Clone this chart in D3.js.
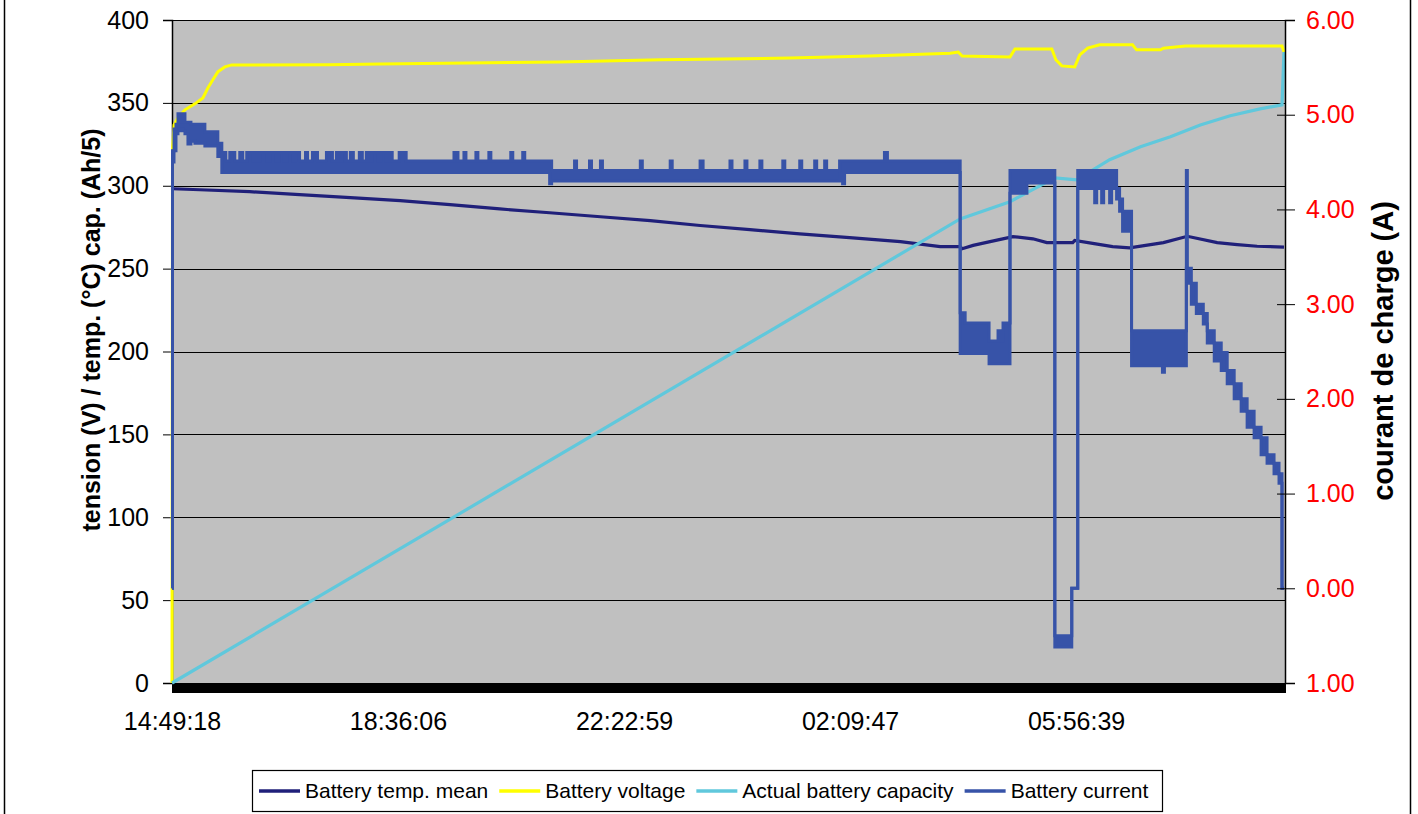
<!DOCTYPE html>
<html><head><meta charset="utf-8">
<script src="https://cdn.jsdelivr.net/npm/d3@7"></script>
<style>
body{margin:0;background:#fff}
svg{display:block}
text{font-family:"Liberation Sans",Arial,Helvetica,sans-serif}
</style>
</head><body>
<svg id="chart" width="1418" height="814"></svg>
<script>
// ---------- DATA (x = minutes elapsed since 14:49:18) ----------
const leftTicks = [0, 50, 100, 150, 200, 250, 300, 350, 400];
const rightTicks = [-1, 0, 1, 2, 3, 4, 5, 6];
const rightTickLabels = ["1.00", "0.00", "1.00", "2.00", "3.00", "4.00", "5.00", "6.00"];
const timeTicks = [0, 226.8, 453.68, 680.48, 907.35];
const timeLabels = ["14:49:18", "18:36:06", "22:22:59", "02:09:47", "05:56:39"];
const seriesNames = ["Battery temp. mean", "Battery voltage", "Actual battery capacity", "Battery current"];

// Battery temp. mean  [minute, value]  (left axis)
const tempMean = [
  [0.5,298.2],[28,297.6],[78,296.4],[128,294.6],[179,292.8],[229,291],[279,288.6],[329,286],
  [379,283.7],[430,281.3],[480,279],[530,276],[580,273.5],[630,271],[680,268.7],[731,266.3],
  [771,263.3],[791,263.3],[793,262],[804,264],[821,266.3],[844,269.3],[864,268],[878,265.7],
  [904,265.7],[906,267],[924,265.2],[944,263.3],[961,262.5],[995,265.7],[1019,269.5],
  [1049,265.7],[1069,264.5],[1089,263.5],[1116,263]
];
// Battery voltage  [minute, value]  (left axis)
const voltage = [
  [0,0],[0.5,322],[2,336.7],[6,341],[13,345.8],[23,349.4],[31,353],[36,359],[41,363.9],
  [46,368.7],[53,371.7],[60,372.9],[158,373],[209,373.5],[389,374.7],[490,376],[620,377],
  [700,378.3],[781,380],[789,380.7],[793,378.3],[841,377.7],[846,382.5],[883,382.5],
  [887,376],[893,372.3],[906,371.7],[911,378.9],[919,383],[931,385],[964,385],[968,382],
  [992,382],[995,383],[1017,384.3],[1114,384.3],[1116,380.7]
];
// Actual battery capacity  [minute, value]  (left axis)
const capacity = [
  [0,0],[791,280],[841,290.4],[886,304.8],[908,303.6],[921,308.4],[941,315.7],[972,323.5],
  [1002,329.5],[1032,336.7],[1062,342.2],[1092,346.4],[1114,348.8],[1116,380.7]
];
// Battery current  [minute, low, high]  (right axis) – dense oscillation envelope
const current = [
  [0,0,0],[0.5,4.50,4.62],[2,4.62,4.85],[4,4.80,4.90],[6,4.83,5.01],[8,4.85,4.92],
  [11,4.83,5.01],[13,4.80,4.92],[16,4.69,4.92],[19,4.72,4.90],[23,4.70,4.90],[33,4.67,4.82],
  [46,4.56,4.70],
  [50,4.39,4.60],[54,4.39,4.51],[58,4.39,4.60],[63,4.39,4.51],[68,4.39,4.60],[71,4.39,4.51],
  [75,4.39,4.60],[81,4.39,4.51],[84,4.39,4.60],[86,4.39,4.51],[88,4.39,4.60],[95,4.39,4.51],
  [98,4.39,4.60],[104,4.39,4.51],[107,4.39,4.60],[112,4.39,4.51],[115,4.39,4.60],[121,4.39,4.51],
  [124,4.39,4.60],[128,4.39,4.51],[134,4.39,4.60],[136,4.39,4.51],[141,4.39,4.60],[146,4.39,4.51],
  [155,4.39,4.60],[161,4.39,4.51],[165,4.39,4.60],[168,4.39,4.51],[171,4.39,4.60],[175,4.39,4.51],
  [179,4.39,4.60],[182,4.39,4.51],[188,4.39,4.60],[191,4.39,4.51],[195,4.39,4.60],[198,4.39,4.51],
  [201,4.39,4.60],[207,4.39,4.51],[210,4.39,4.60],[215,4.39,4.51],[218,4.39,4.60],[221,4.39,4.51],
  [228,4.39,4.60],[235,4.39,4.51],[283,4.39,4.60],[287,4.39,4.51],[293,4.39,4.60],[295,4.39,4.51],
  [305,4.39,4.60],[307,4.39,4.51],[318,4.39,4.60],[320,4.39,4.51],[340,4.39,4.60],[342,4.39,4.51],
  [352,4.39,4.60],[354,4.39,4.51],
  [379,4.27,4.51],[381,4.30,4.41],
  [404,4.30,4.51],[406,4.30,4.41],[419,4.30,4.51],[421,4.30,4.41],[430,4.30,4.51],[432,4.30,4.41],
  [470,4.30,4.51],[472,4.30,4.41],[500,4.30,4.51],[502,4.30,4.41],[530,4.30,4.51],[533,4.30,4.41],
  [560,4.30,4.51],[562,4.30,4.41],[575,4.30,4.51],[577,4.30,4.41],[590,4.30,4.51],[592,4.30,4.41],
  [613,4.30,4.51],[615,4.30,4.41],[630,4.30,4.51],[632,4.30,4.41],[645,4.30,4.51],[647,4.30,4.41],
  [655,4.30,4.51],[657,4.30,4.41],
  [670,4.39,4.51],[673,4.27,4.51],[675,4.39,4.51],[715,4.39,4.60],[718,4.39,4.51],
  [791,2.48,2.91],[796,2.48,2.80],[820,2.37,2.61],[829,2.37,2.72],[831,2.37,2.61],
  [834,2.37,2.80],[841,4.17,4.41],[858,4.28,4.41],[886,-0.62,-0.50],[903,0,0],
  [909,4.22,4.41],[926,4.07,4.41],[928,4.22,4.41],[933,4.07,4.41],[935,4.22,4.41],
  [941,4.07,4.41],[943,4.22,4.41],[948,4.11,4.22],[951,3.98,4.11],[954,3.77,3.98],
  [963,2.35,2.72],[994,2.28,2.72],[996,2.35,2.72],[1018,3.38,4.41],[1019,3.22,3.38],
  [1023,3.00,3.22],[1028,2.90,3.00],[1035,2.79,2.90],[1039,2.59,2.72],[1046,2.40,2.59],
  [1053,2.30,2.49],[1059,2.16,2.30],[1066,2.00,2.16],[1073,1.87,2.00],[1079,1.70,1.87],
  [1086,1.59,1.70],[1093,1.41,1.59],[1099,1.32,1.41],[1106,1.21,1.32],[1111,1.11,1.21],
  [1114,0,0],[1116,0,0]
];

// ---------- STYLE / LAYOUT ----------
const colors = ["#20207a", "#ffff00", "#60c8dc", "#3753a8"];
const P = {l:172, r:1285, t:20, b:683};
const svg = d3.select("#chart");

const x = d3.scaleLinear().domain([0, 1117]).range([P.l, P.r]);
const yL = d3.scaleLinear().domain([0, 400]).range([P.b, P.t]);
const yR = d3.scaleLinear().domain([-1, 6]).range([P.b, P.t]);

// outer frame
svg.append("line").attr("x1",4.5).attr("x2",4.5).attr("y1",0).attr("y2",814).attr("stroke","#000").attr("stroke-width",1.5);
svg.append("line").attr("x1",1410.5).attr("x2",1410.5).attr("y1",0).attr("y2",814).attr("stroke","#000").attr("stroke-width",1.5);

// plot background
svg.append("rect").attr("x",P.l).attr("y",P.t).attr("width",P.r-P.l).attr("height",P.b-P.t).attr("fill","#c0c0c0");

// gridlines
svg.append("g").selectAll("line").data(leftTicks.filter(d=>d>0)).join("line")
  .attr("x1",P.l).attr("x2",P.r).attr("y1",d=>Math.round(yL(d))+0.5).attr("y2",d=>Math.round(yL(d))+0.5)
  .attr("stroke","#000").attr("stroke-width",1);

// dense category ticks (black band)
const band = svg.append("g").attr("transform",`translate(0,${P.b})`)
  .call(d3.axisBottom(x).tickValues(d3.range(0,1118,1)).tickSize(10).tickFormat(""));
band.select(".domain").attr("stroke","#000");
band.selectAll(".tick line").attr("stroke","#000").attr("shape-rendering","crispEdges");

// time labels
const xl = svg.append("g").attr("transform",`translate(0,${P.b})`)
  .call(d3.axisBottom(x).tickValues(timeTicks).tickFormat((d,i)=>timeLabels[i]).tickSize(0).tickPadding(29));
xl.select(".domain").remove();
xl.selectAll("text").attr("font-size",25).attr("fill","#000").style("font-family",'"Liberation Sans",Arial,sans-serif');

// left axis
const la = svg.append("g").attr("transform",`translate(${P.l},0)`)
  .call(d3.axisLeft(yL).tickValues(leftTicks).tickSize(9).tickPadding(14));
la.select(".domain").attr("stroke","#000").attr("stroke-width",1.5);
la.selectAll(".tick line").attr("stroke","#000");
la.selectAll("text").attr("font-size",25).attr("fill","#000").style("font-family",'"Liberation Sans",Arial,sans-serif');

// series lines (left axis)
const lineL = d3.line().x(d=>x(d[0])).y(d=>yL(d[1]));
svg.append("path").datum(tempMean).attr("d",lineL).attr("fill","none").attr("stroke",colors[0]).attr("stroke-width",3.2);
svg.append("path").datum(voltage).attr("d",lineL).attr("fill","none").attr("stroke",colors[1]).attr("stroke-width",3);
svg.append("path").datum(capacity).attr("d",lineL).attr("fill","none").attr("stroke",colors[2]).attr("stroke-width",3.2);

// current (right axis)
const area = d3.area().x(d=>x(d[0])).y0(d=>yR(d[1])).y1(d=>yR(d[2])).curve(d3.curveStepAfter);
const lo = d3.line().x(d=>x(d[0])).y(d=>yR(d[1])).curve(d3.curveStepAfter);
const hi = d3.line().x(d=>x(d[0])).y(d=>yR(d[2])).curve(d3.curveStepAfter);
svg.append("path").datum(current).attr("d",area).attr("fill",colors[3]);
svg.append("path").datum(current).attr("d",lo).attr("fill","none").attr("stroke",colors[3]).attr("stroke-width",3);
svg.append("path").datum(current).attr("d",hi).attr("fill","none").attr("stroke",colors[3]).attr("stroke-width",3);

// right axis
const ra = svg.append("g").attr("transform",`translate(${P.r},0)`)
  .call(d3.axisRight(yR).tickValues(rightTicks).tickFormat((d,i)=>rightTickLabels[i]).tickSize(10).tickPadding(11));
ra.select(".domain").attr("stroke","#000").attr("stroke-width",1.5);
ra.selectAll(".tick line").attr("stroke","#000").attr("x1",-8);
ra.selectAll("text").attr("font-size",25).attr("fill","#ff0000").style("font-family",'"Liberation Sans",Arial,sans-serif');

// axis titles
svg.append("text").attr("transform","translate(100,330) rotate(-90)").attr("text-anchor","middle")
  .attr("font-size",25).attr("font-weight","bold").attr("fill","#000")
  .text("tension (V) / temp. (°C) cap. (Ah/5)");
svg.append("text").attr("transform","translate(1393,351) rotate(-90)").attr("text-anchor","middle")
  .attr("font-size",29).attr("font-weight","bold").attr("fill","#000")
  .text("courant de charge (A)");

// legend
const lg = svg.append("g");
lg.append("rect").attr("x",252.5).attr("y",770.5).attr("width",910).attr("height",41)
  .attr("fill","#fff").attr("stroke","#000").attr("stroke-width",1.2);
let cx = 259;
seriesNames.forEach((name,i)=>{
  lg.append("line").attr("x1",cx).attr("x2",cx+41).attr("y1",791).attr("y2",791)
    .attr("stroke",colors[i]).attr("stroke-width",3.5);
  const t = lg.append("text").attr("x",cx+46).attr("y",791).attr("dy","0.35em")
    .attr("font-size",21).attr("fill","#000").text(name);
  cx = cx + 46 + t.node().getComputedTextLength() + 11;
});
</script>
</body></html>
